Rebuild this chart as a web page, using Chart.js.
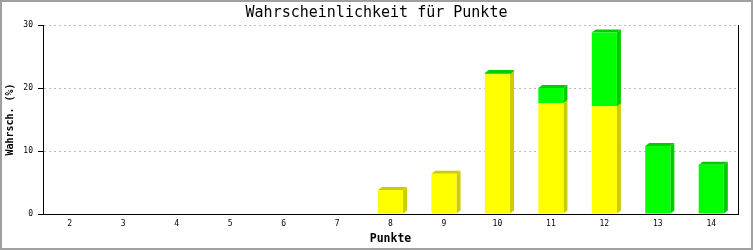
<!DOCTYPE html>
<html>
<head>
<meta charset="utf-8">
<script src="https://cdn.jsdelivr.net/npm/chart.js@4/dist/chart.umd.min.js"></script>
<style>
    body { margin: 0; background: #fff; }
    #wrap { width: 753px; height: 250px; }
</style>
</head>
<body>
<div id="wrap"><canvas id="punkteChart" width="753" height="250"></canvas></div>
<script>
const punkte = ['2', '3', '4', '5', '6', '7', '8', '9', '10', '11', '12', '13', '14'];
const gelbWerte = [0, 0, 0, 0, 0, 0, 3.8, 6.4, 22.2, 17.6, 17.1, 0, 0];
const gruenWerte = [0, 0, 0, 0, 0, 0, 0, 0, 0.2, 2.4, 11.7, 10.8, 7.8];
const yTicks = [0, 10, 20, 30];

const FONT = "'DejaVu Sans Mono', 'Liberation Mono', monospace";

// fake 3D: side and top faces behind the bar fronts
const depthPlugin = {
    id: 'depth',
    beforeDatasetsDraw(chart) {
        const ctx = chart.ctx;
        const dx = 4, dy = 3;
        chart.data.datasets.forEach(function (ds, i) {
            const meta = chart.getDatasetMeta(i);
            meta.data.forEach(function (bar, j) {
                if (!ds.data[j]) return;
                const p = bar.getProps(['x', 'y', 'base', 'width'], true);
                const l = p.x - p.width / 2;
                const r = p.x + p.width / 2;
                ctx.save();
                ctx.fillStyle = ds.sideColor;
                ctx.beginPath();
                ctx.moveTo(r, p.base);
                ctx.lineTo(r, p.y);
                ctx.lineTo(r + dx, p.y - dy);
                ctx.lineTo(r + dx, p.base - dy);
                ctx.closePath();
                ctx.fill();
                ctx.beginPath();
                ctx.moveTo(l, p.y);
                ctx.lineTo(l + dx, p.y - dy);
                ctx.lineTo(r + dx, p.y - dy);
                ctx.lineTo(r, p.y);
                ctx.closePath();
                ctx.fill();
                ctx.restore();
            });
        });
    }
};

const framePlugin = {
    id: 'frame',
    beforeDraw(chart) {
        const ctx = chart.ctx;
        ctx.save();
        ctx.fillStyle = '#fff';
        ctx.fillRect(0, 0, chart.width, chart.height);
        ctx.restore();
    },
    afterDraw(chart) {
        const ctx = chart.ctx;
        ctx.save();
        ctx.strokeStyle = '#a0a0a0';
        ctx.lineWidth = 2;
        ctx.strokeRect(1, 1, chart.width - 2, chart.height - 2);
        ctx.restore();
    }
};

const ctx = document.getElementById('punkteChart').getContext('2d');
new Chart(ctx, {
    type: 'bar',
    data: {
        labels: punkte,
        datasets: [{
            label: 'gelb',
            data: gelbWerte,
            backgroundColor: '#ffff00',
            sideColor: '#cccc00',
            borderWidth: 0
        }, {
            label: 'grün',
            data: gruenWerte,
            backgroundColor: '#00ff00',
            sideColor: '#00cc00',
            borderWidth: 0
        }]
    },
    options: {
        responsive: false,
        animation: false,
        barPercentage: 0.47,
        categoryPercentage: 1,
        layout: { padding: 0 },
        plugins: {
            legend: { display: false },
            tooltip: { enabled: false },
            title: {
                display: true,
                text: 'Wahrscheinlichkeit für Punkte',
                color: '#000',
                font: { family: FONT, size: 15, weight: 'normal' },
                padding: { top: 4, bottom: 3 }
            }
        },
        scales: {
            x: {
                stacked: true,
                grid: { display: false, drawTicks: false },
                border: { color: '#000', width: 1 },
                ticks: { color: '#000', font: { family: FONT, size: 8 }, padding: 5, maxRotation: 0 },
                title: {
                    display: true,
                    text: 'Punkte',
                    color: '#000',
                    font: { family: FONT, size: 11.5, weight: 'bold' },
                    padding: { top: 4, bottom: 4 }
                },
                afterFit: function (scale) { scale.height = 36; }
            },
            y: {
                stacked: true,
                min: 0,
                max: 30,
                afterBuildTicks: function (scale) {
                    scale.ticks = yTicks.map(v => ({ value: v }));
                },
                grid: {
                    color: function (c) { return c.tick && c.tick.value === 0 ? 'rgba(0,0,0,0)' : '#bbbbbb'; },
                    tickColor: '#000',
                    tickLength: 5,
                    tickBorderDash: []
                },
                border: { color: '#000', width: 1, dash: [2, 3] },
                ticks: { color: '#000', font: { family: FONT, size: 8 }, padding: 5 },
                title: {
                    display: true,
                    text: 'Wahrsch. (%)',
                    color: '#000',
                    font: { family: FONT, size: 10, weight: 'bold' },
                    padding: { top: 4, bottom: 4 }
                },
                afterFit: function (scale) { scale.width = 43; }
            },
            y2: {
                position: 'right',
                min: 0,
                max: 30,
                grid: { display: false },
                ticks: { display: false },
                border: { color: '#000', width: 1 },
                afterFit: function (scale) { scale.width = 15; }
            }
        }
    },
    plugins: [depthPlugin, framePlugin]
});
</script>
</body>
</html>
